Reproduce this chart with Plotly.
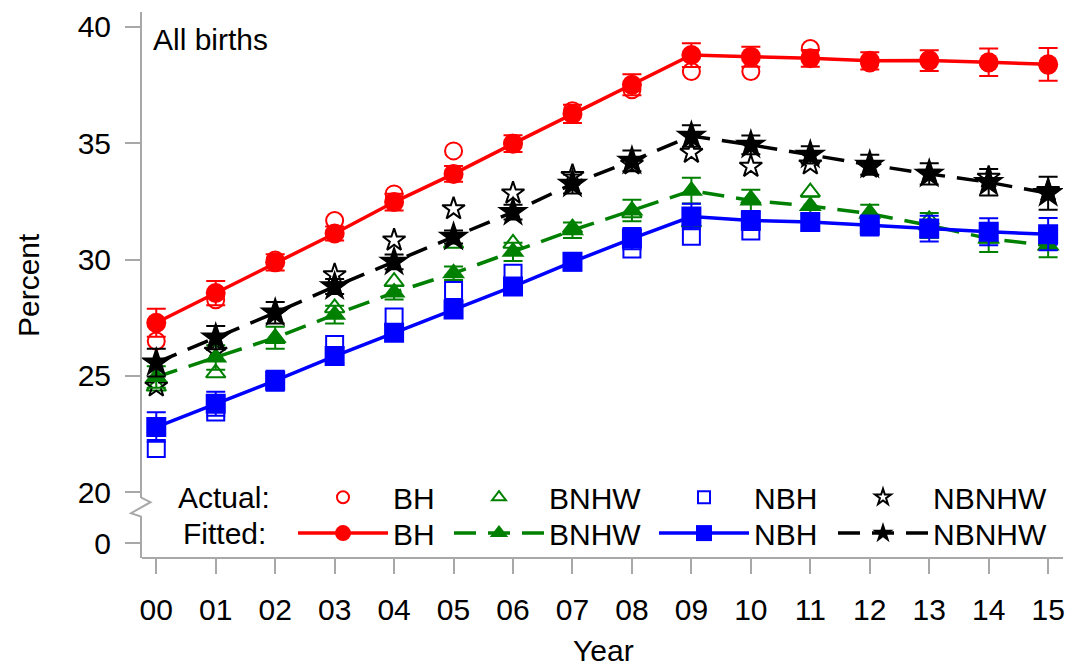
import plotly.graph_objects as go

years = list(range(2000, 2016))
year_labels = ["00", "01", "02", "03", "04", "05", "06", "07", "08", "09", "10", "11", "12", "13", "14", "15"]

# Actual (observed) percentages
bh_actual = [26.5, 28.27, 29.98, 31.68, 32.82, 34.67, 35.0, 36.4, 37.3, 38.08, 38.08, 39.07, 38.45, 38.6, 38.45, 38.35]
bnhw_actual = [24.55, 25.12, 26.6, 27.92, 29.05, 30.69, 30.69, 31.35, 32.0, 31.6, 32.6, 32.9, 32.0, 31.7, 30.9, 30.6]
nbh_actual = [21.88, 23.45, 24.8, 26.35, 27.53, 28.67, 29.41, 29.9, 30.45, 31.0, 31.23, 31.6, 31.4, 31.3, 31.2, 31.0]
nbnhw_actual = [24.56, 26.05, 27.7, 29.34, 30.83, 32.18, 32.85, 33.6, 34.1, 34.6, 34.0, 34.1, 33.96, 33.7, 33.53, 32.96]

# Fitted percentages and error half-widths
bh_fit = [27.28, 28.56, 29.88, 31.12, 32.47, 33.68, 34.98, 36.26, 37.51, 38.79, 38.72, 38.65, 38.54, 38.55, 38.48, 38.39]
bh_err = [0.6, 0.52, 0.35, 0.3, 0.36, 0.34, 0.36, 0.39, 0.45, 0.51, 0.43, 0.36, 0.37, 0.45, 0.59, 0.7]
bnhw_fit = [24.95, 25.79, 26.64, 27.63, 28.58, 29.41, 30.33, 31.26, 32.11, 32.96, 32.54, 32.3, 31.97, 31.47, 30.9, 30.6]
bnhw_err = [0.46, 0.53, 0.47, 0.38, 0.3, 0.29, 0.39, 0.33, 0.46, 0.55, 0.46, 0.4, 0.39, 0.53, 0.58, 0.5]
nbh_fit = [22.8, 23.8, 24.79, 25.85, 26.85, 27.85, 28.84, 29.9, 30.9, 31.85, 31.68, 31.61, 31.47, 31.33, 31.19, 31.09]
nbh_err = [0.63, 0.52, 0.43, 0.36, 0.32, 0.3, 0.36, 0.36, 0.46, 0.55, 0.41, 0.37, 0.42, 0.55, 0.58, 0.69]
nbnhw_fit = [25.57, 26.64, 27.71, 28.84, 29.9, 30.97, 32.04, 33.25, 34.24, 35.31, 34.93, 34.5, 34.07, 33.68, 33.32, 32.85]
nbnhw_err = [0.6, 0.5, 0.46, 0.32, 0.32, 0.28, 0.32, 0.41, 0.45, 0.46, 0.4, 0.37, 0.43, 0.46, 0.57, 0.71]

groups = ["BH", "BNHW", "NBH", "NBNHW"]
colors = ["#ff0000", "#008000", "#0000ff", "#000000"]
open_symbols = ["circle-open", "triangle-up-open", "square-open", "star-open"]
fill_symbols = ["circle", "triangle-up", "square", "star"]
dashes = ["solid", "22px,12px", "solid", "22px,12px"]
actual_sets = [bh_actual, bnhw_actual, nbh_actual, nbnhw_actual]
fit_sets = [bh_fit, bnhw_fit, nbh_fit, nbnhw_fit]
err_sets = [bh_err, bnhw_err, nbh_err, nbnhw_err]

FONT = "Liberation Sans, Arial, sans-serif"
FS = 30
AXIS_GRAY = "#a8a8a8"

# plot-area geometry (pixels)
L, R, T, B = 142, 18, 10, 114
W, H = 1081, 672
PW = W - L - R
PH = H - T - B


def px_to_paper_x(px):
    return (px - L) / PW


def py_to_paper_y(py):
    return (H - B - py) / PH


fig = go.Figure()

legend_item_px = [293, 449, 654, 833]
row_actual_py = 497
row_fit_py = 533

for i, g in enumerate(groups):
    fig.add_trace(go.Scatter(
        x=years, y=actual_sets[i], mode="markers", name=g,
        marker=dict(symbol=open_symbols[i], size=17, color=colors[i],
                    line=dict(width=2, color=colors[i])),
        legend="legend" if i == 0 else f"legend{i + 1}",
    ))

for i, g in enumerate(groups):
    fig.add_trace(go.Scatter(
        x=years, y=fit_sets[i], mode="lines+markers", name=g,
        line=dict(color=colors[i], width=3.5, dash=dashes[i]),
        marker=dict(symbol=fill_symbols[i], size=20 if i != 3 else 24, color=colors[i]),
        error_y=dict(type="data", array=err_sets[i], visible=True,
                     color=colors[i], thickness=2, width=9.5),
        legend=f"legend{i + 5}",
    ))

# empty trace to host the lower (broken) axis segment
fig.add_trace(go.Scatter(x=[], y=[], yaxis="y2", showlegend=False, hoverinfo="skip"))

legend_common = dict(
    bgcolor="rgba(0,0,0,0)", borderwidth=0,
    font=dict(family=FONT, size=FS, color="#000"),
    itemwidth=90, xanchor="left", yanchor="middle",
    orientation="v", itemclick=False, itemdoubleclick=False,
)
layout_legends = {}
for i in range(4):
    key = "legend" if i == 0 else f"legend{i + 1}"
    layout_legends[key] = dict(legend_common, x=px_to_paper_x(legend_item_px[i]),
                               y=py_to_paper_y(row_actual_py), itemsizing="constant")
    layout_legends[f"legend{i + 5}"] = dict(legend_common, x=px_to_paper_x(legend_item_px[i]),
                                            y=py_to_paper_y(row_fit_py), itemsizing="trace")

top_dom_bottom = py_to_paper_y(498)
low_dom_top = py_to_paper_y(516)

axis_common = dict(
    showline=True, linecolor=AXIS_GRAY, linewidth=2,
    ticks="outside", ticklen=15, tickwidth=2, tickcolor=AXIS_GRAY,
    showgrid=False, zeroline=False,
    tickfont=dict(family=FONT, size=FS, color="#000"),
)

fig.update_layout(
    width=W, height=H,
    margin=dict(l=L, r=R, t=T, b=B, pad=0),
    paper_bgcolor="white", plot_bgcolor="white",
    showlegend=True,
    xaxis=dict(axis_common, range=[1999.76, 2015.25], tickvals=years, ticktext=year_labels,
               anchor="free", position=0, ticklabelstandoff=10),
    yaxis=dict(axis_common, domain=[top_dom_bottom, 1], range=[19.74, 40.64],
               tickvals=[20, 25, 30, 35, 40], anchor="x", ticklabelstandoff=8),
    yaxis2=dict(axis_common, domain=[0, low_dom_top], range=[-1.5, 2.7],
                tickvals=[0], anchor="x", ticklabelstandoff=8),
    **layout_legends,
)

# axis break zigzag
zx = [141.3, 150.5, 131.0, 141.3]
zy = [497.5, 502.0, 513.0, 516.5]
path = "M " + " L ".join(f"{px_to_paper_x(a)},{py_to_paper_y(b)}" for a, b in zip(zx, zy))
fig.add_shape(type="path", path=path, xref="paper", yref="paper",
              line=dict(color=AXIS_GRAY, width=2))

ann_font = dict(family=FONT, size=FS, color="#000")
fig.add_annotation(text="All births", xref="paper", yref="paper",
                   x=px_to_paper_x(151), y=py_to_paper_y(38), xanchor="left", yanchor="middle",
                   showarrow=False, font=ann_font)
fig.add_annotation(text="Percent", xref="paper", yref="paper", textangle=-90,
                   x=px_to_paper_x(28), y=py_to_paper_y(284), xanchor="center", yanchor="middle",
                   showarrow=False, font=ann_font)
fig.add_annotation(text="Year", xref="paper", yref="paper",
                   x=px_to_paper_x(603), y=py_to_paper_y(651), xanchor="center", yanchor="middle",
                   showarrow=False, font=ann_font)
fig.add_annotation(text="Actual:", xref="paper", yref="paper",
                   x=px_to_paper_x(224), y=py_to_paper_y(row_actual_py), xanchor="center", yanchor="middle",
                   showarrow=False, font=ann_font)
fig.add_annotation(text="Fitted:", xref="paper", yref="paper",
                   x=px_to_paper_x(224), y=py_to_paper_y(row_fit_py), xanchor="center", yanchor="middle",
                   showarrow=False, font=ann_font)

fig.write_html("out.html")
